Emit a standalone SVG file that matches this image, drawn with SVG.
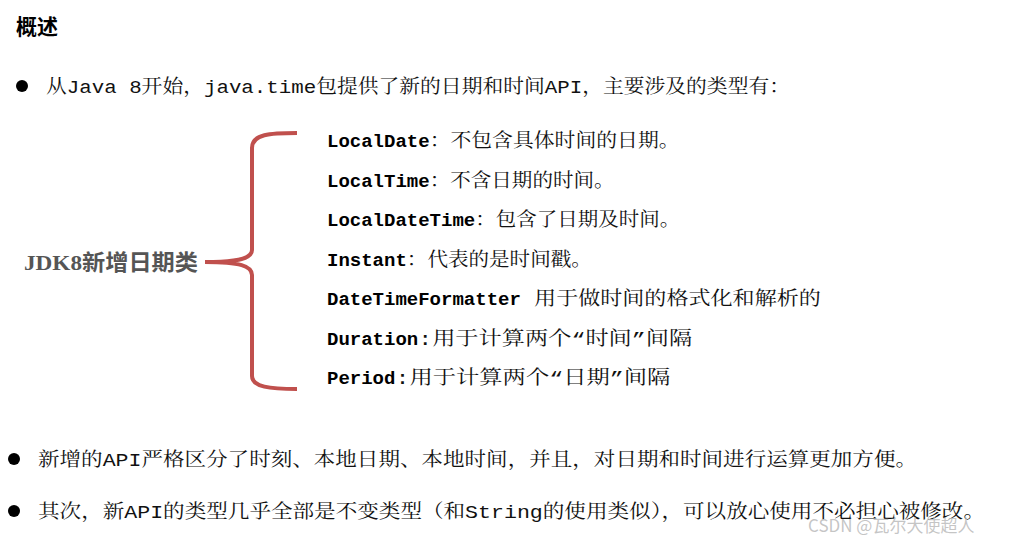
<svg xmlns="http://www.w3.org/2000/svg" width="1015" height="544" viewBox="0 0 1015 544">
<style>
.t{font-family:"Liberation Mono","Noto Serif CJK SC","Noto Sans CJK SC",monospace;font-size:19px;fill:#111}
.k{font-family:"Liberation Mono","Noto Sans CJK SC",monospace;font-size:19px;font-weight:bold;fill:#000}
.s{font-family:"Liberation Serif","Noto Sans CJK SC",serif;font-size:22px;font-weight:bold;fill:#555}
</style>
<rect width="1015" height="544" fill="#fff"/>
<text x="16" y="34" font-family="Noto Sans CJK SC,sans-serif" font-size="21" font-weight="bold" fill="#000">概述</text>
<circle cx="22" cy="86" r="6" fill="#000"/>
<text class="t" x="46" y="93" textLength="744" lengthAdjust="spacingAndGlyphs">从Java 8开始，java.time包提供了新的日期和时间API，主要涉及的类型有：</text>
<g id="brace"><path d="M297,133 C270,133 252,134 252,148 L252,250 C252,258 240,262 205,262 C240,262 252,266 252,275 L252,376 C252,387 270,389 297,389" fill="none" stroke="#c0504d" stroke-width="4"/></g>
<g id="label"><text class="s" x="24" y="270" textLength="174" lengthAdjust="spacingAndGlyphs">JDK8新增日期类</text></g>
<g id="items">
<text x="327" y="147"><tspan class="k">LocalDate</tspan><tspan class="t" textLength="250" lengthAdjust="spacingAndGlyphs">：不包含具体时间的日期。</tspan></text>
<text x="327" y="187"><tspan class="k">LocalTime</tspan><tspan class="t" textLength="185" lengthAdjust="spacingAndGlyphs">：不含日期的时间。</tspan></text>
<text x="327" y="226"><tspan class="k">LocalDateTime</tspan><tspan class="t" textLength="205" lengthAdjust="spacingAndGlyphs">：包含了日期及时间。</tspan></text>
<text x="327" y="266"><tspan class="k">Instant</tspan><tspan class="t" textLength="185" lengthAdjust="spacingAndGlyphs">：代表的是时间戳。</tspan></text>
<text x="327" y="305"><tspan class="k">DateTimeFormatter</tspan><tspan class="t" textLength="300" lengthAdjust="spacingAndGlyphs"> 用于做时间的格式化和解析的</tspan></text>
<text x="327" y="345"><tspan class="k">Duration</tspan><tspan class="t" textLength="274" lengthAdjust="spacingAndGlyphs">:用于计算两个“时间”间隔</tspan></text>
<text x="327" y="384"><tspan class="k">Period</tspan><tspan class="t" textLength="275" lengthAdjust="spacingAndGlyphs">:用于计算两个“日期”间隔</tspan></text>
</g>
<circle cx="14" cy="459" r="6" fill="#000"/>
<text class="t" x="38" y="466" textLength="879" lengthAdjust="spacingAndGlyphs">新增的API严格区分了时刻、本地日期、本地时间，并且，对日期和时间进行运算更加方便。</text>
<circle cx="14" cy="511" r="6" fill="#000"/>
<text class="t" x="38" y="518" textLength="947" lengthAdjust="spacingAndGlyphs">其次，新API的类型几乎全部是不变类型（和String的使用类似），可以放心使用不必担心被修改。</text>
<text x="808" y="532" font-family="Noto Sans CJK SC,sans-serif" font-size="17" fill="#bbb" fill-opacity="0.85">CSDN @瓦尔大使超人</text>
</svg>
